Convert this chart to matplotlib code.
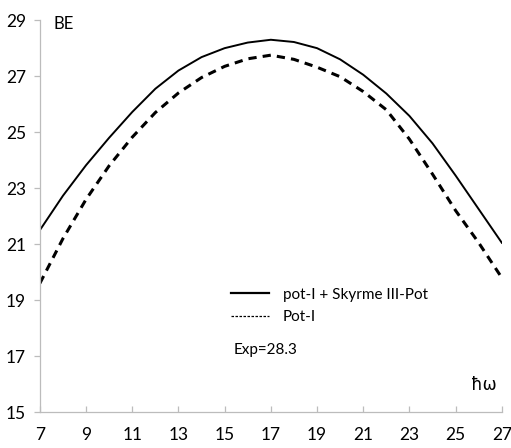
import matplotlib
matplotlib.use("Agg")
import matplotlib.pyplot as plt
from matplotlib.lines import Line2D

plt.rcParams['font.family'] = ['Lato', 'DejaVu Sans']

# hw values and binding energies
hw = [7, 8, 9, 10, 11, 12, 13, 14, 15, 16, 17, 18, 19, 20, 21, 22, 23, 24, 25, 26, 27]
be_skyrme = [21.5, 22.73, 23.82, 24.8, 25.72, 26.55, 27.2, 27.68, 28.0, 28.2, 28.3,
             28.22, 28.0, 27.6, 27.05, 26.38, 25.58, 24.6, 23.45, 22.25, 21.05]
be_pot = [19.6, 21.2, 22.6, 23.8, 24.82, 25.7, 26.4, 26.95, 27.35, 27.62, 27.75,
          27.6, 27.32, 26.98, 26.45, 25.8, 24.75, 23.5, 22.2, 21.05, 19.8]

x_ticks = [7, 9, 11, 13, 15, 17, 19, 21, 23, 25, 27]
y_ticks = [15, 17, 19, 21, 23, 25, 27, 29]

label_skyrme = "pot-I + Skyrme III-Pot"
label_pot = "Pot-I"
exp_text = "Exp=28.3"

fig = plt.figure(figsize=(5.11, 4.48), dpi=100)
ax = fig.add_axes([0.078, 0.080, 0.904, 0.875])

ax.plot(hw, be_skyrme, color='black', lw=1.4)
ax.plot(hw, be_pot, color='black', lw=2.2, dashes=(2.7, 2.0), dash_capstyle='butt')

ax.set_xlim(7, 27)
ax.set_ylim(15, 29)
ax.set_xticks(x_ticks)
ax.set_yticks(y_ticks)

grey = '#bcbcbc'
for side in ['top', 'right']:
    ax.spines[side].set_visible(False)
for side in ['left', 'bottom']:
    ax.spines[side].set_color(grey)
    ax.spines[side].set_linewidth(0.9)

ax.tick_params(axis='x', direction='in', length=4, width=0.9, color=grey,
               pad=11, labelsize=12.5)
ax.tick_params(axis='y', direction='out', length=4, width=0.9, color=grey,
               pad=6, labelsize=12.5)

ax.text(0.03, 0.99, "BE", transform=ax.transAxes, fontsize=12, va='center', ha='left')
ax.text(0.933, 0.069, "ħω", transform=ax.transAxes, fontsize=12, va='center', ha='left',
        family=['DejaVu Sans'])

handles = [Line2D([], [], color='black', lw=1.6),
           Line2D([], [], color='black', lw=0.9, dashes=(2.0, 1.2))]
ax.legend(handles, [label_skyrme, label_pot], loc='upper left',
          bbox_to_anchor=(0.413, 0.318), frameon=False, fontsize=11,
          handlelength=2.5, handletextpad=0.9, labelspacing=0.55,
          borderpad=0, borderaxespad=0)

ax.text(0.42, 0.158, exp_text, transform=ax.transAxes, fontsize=11, va='center', ha='left')

fig.savefig("out.png", dpi=100)
